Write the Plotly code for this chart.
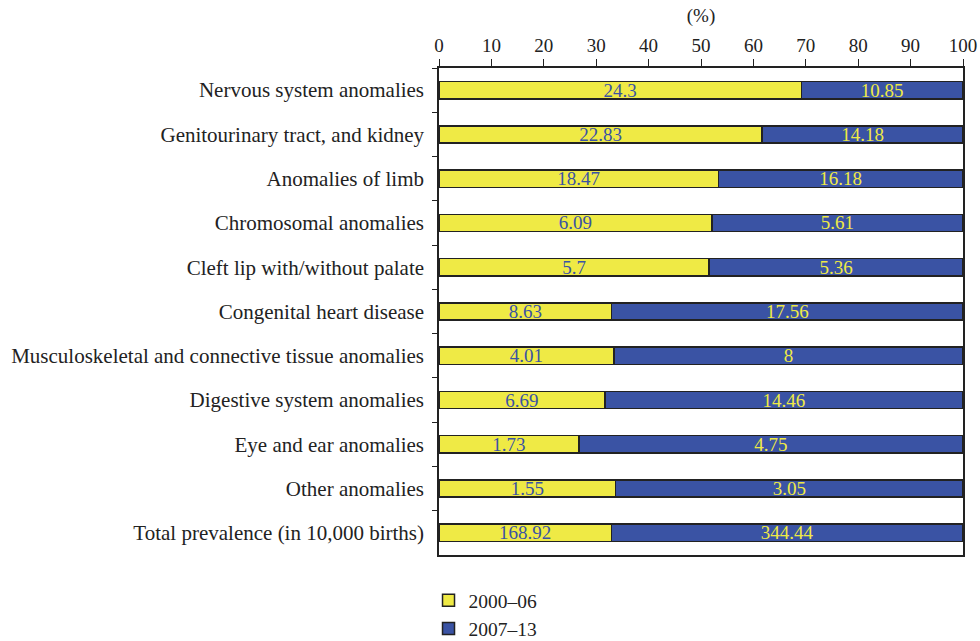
import plotly.graph_objects as go

categories = [
    "Nervous system anomalies",
    "Genitourinary tract, and kidney",
    "Anomalies of limb",
    "Chromosomal anomalies",
    "Cleft lip with/without palate",
    "Congenital heart disease",
    "Musculoskeletal and connective tissue anomalies",
    "Digestive system anomalies",
    "Eye and ear anomalies",
    "Other anomalies",
    "Total prevalence (in 10,000 births)",
]
period_2000_06 = [24.3, 22.83, 18.47, 6.09, 5.7, 8.63, 4.01, 6.69, 1.73, 1.55, 168.92]
period_2007_13 = [10.85, 14.18, 16.18, 5.61, 5.36, 17.56, 8, 14.46, 4.75, 3.05, 344.44]
x_ticks = [0, 10, 20, 30, 40, 50, 60, 70, 80, 90, 100]

YELLOW = "#EFEA45"
BLUE = "#3A53A4"
FONT = "Liberation Serif"

fig = go.Figure()
fig.add_trace(go.Bar(
    y=categories, x=period_2000_06, orientation="h", name="2000\u201306",
    marker=dict(color=YELLOW, line=dict(color="#222222", width=1.5)),
    text=[str(v) for v in period_2000_06], textposition="inside",
    insidetextanchor="middle", textangle=0, constraintext="none",
    textfont=dict(color=BLUE, size=19, family=FONT),
    width=0.39,
))
fig.add_trace(go.Bar(
    y=categories, x=period_2007_13, orientation="h", name="2007\u201313",
    marker=dict(color=BLUE, line=dict(color="#222222", width=1.5)),
    text=[str(v) for v in period_2007_13], textposition="inside",
    insidetextanchor="middle", textangle=0, constraintext="none",
    textfont=dict(color=YELLOW, size=19, family=FONT),
    width=0.39,
))

fig.update_layout(
    width=980, height=641,
    barmode="stack", barnorm="percent",
    margin=dict(l=439, r=17, t=68, b=86, autoexpand=False),
    paper_bgcolor="white", plot_bgcolor="white",
    font=dict(family=FONT, size=19, color="#222222"),
    showlegend=True,
    legend=dict(x=-0.02, xanchor="left", y=-0.0534, yanchor="top",
                traceorder="normal", font=dict(size=19.5, family=FONT),
                bgcolor="rgba(0,0,0,0)", maxheight=150),
    uniformtext=dict(mode=False),
)
fig.update_xaxes(
    side="top", range=[0, 100], tickvals=x_ticks, automargin=False,
    ticks="outside", ticklen=7, tickcolor="#222222", tickwidth=1.2,
    showline=True, linecolor="#222222", linewidth=1.5, mirror=True,
    showgrid=False, zeroline=False,
    title=dict(text="(%)", standoff=7, font=dict(size=19)),
    tickfont=dict(size=19),
)
fig.update_yaxes(
    categoryorder="array", categoryarray=categories, autorange="reversed",
    automargin=False,
    ticks="outside", tickson="boundaries", ticklen=5, tickcolor="#222222",
    showline=True, linecolor="#222222", linewidth=1.5, mirror=True,
    showgrid=False, zeroline=False, ticklabelstandoff=9,
    tickfont=dict(size=21),
)

# Remove the default page margin so the figure sits at the window's top-left corner.
fig.write_html("out.html", config={"displayModeBar": False},
               post_script="document.body.style.margin='0';")
